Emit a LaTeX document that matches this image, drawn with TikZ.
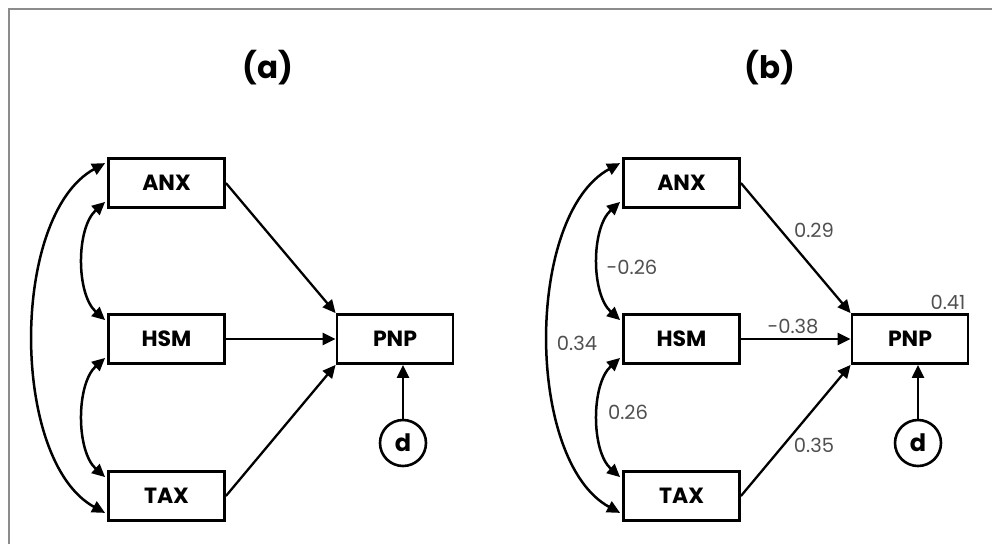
\documentclass[tikz,border=0pt]{standalone}
\usepackage{fontspec}
\newfontfamily\geo{Poppins}
\usetikzlibrary{arrows.meta,calc}
\definecolor{framegray}{HTML}{8C8C8C}
\definecolor{coefgray}{HTML}{505050}
\tikzset{
  var/.style={draw, line width=2.8pt, minimum width=116pt, minimum height=49pt,
    inner sep=0pt, font=\geo\bfseries\fontsize{22}{22}\selectfont},
  dist/.style={draw, circle, line width=2.6pt, minimum size=46pt, inner sep=0pt,
    font=\geo\bfseries\fontsize{24}{24}\selectfont},
  pathline/.style={line width=2.3pt, -{Triangle[length=13pt,width=12pt]}},
  covline/.style={line width=2.5pt,
    {Triangle[length=13pt,width=12pt]}-{Triangle[length=13pt,width=12pt]}},
  coef/.style={text=coefgray, inner sep=0pt, font=\geo\fontsize{19.5}{19.5}\selectfont},
  paneltitle/.style={inner sep=0pt, font=\geo\bfseries\fontsize{31}{31}\selectfont}
}
% one path model: three predictors, one outcome and its disturbance
\newcommand\pathmodel[1]{%
  \node[var] (#1anx) at (166.5,183) {ANX};
  \node[var] (#1hsm) at (166.5,339) {HSM};
  \node[var] (#1tax) at (166.5,496) {TAX};
  \node[var] (#1pnp) at (395,339) {PNP};
  \node[dist] (#1d) at (403,443) {d};
  \draw[pathline] (#1anx.east) -- (#1pnp.north west);
  \draw[pathline] (#1hsm.east) -- (#1pnp.west);
  \draw[pathline] (#1tax.east) -- (#1pnp.south west);
  \draw[pathline] (#1d.north) -- (#1d.north |- #1pnp.south);
  \draw[covline] ($(#1anx.south west)+(-2,-7)$) .. controls (76,228) and (76,294) .. ($(#1hsm.north west)+(-2,7)$);
  \draw[covline] ($(#1hsm.south west)+(-2,-7)$) .. controls (76,384) and (76,451) .. ($(#1tax.north west)+(-2,7)$);
  \draw[covline] ($(#1anx.north west)+(-2,6)$) .. controls (10,215) and (10,461) .. ($(#1tax.south west)+(-2,-9)$);
}
\begin{document}
\begin{tikzpicture}[x=1pt,y=-1pt]
  \fill[white] (0,0) rectangle (992,544);
  \useasboundingbox (0,0) rectangle (992,544);
  \draw[framegray, line width=2pt] (9,544) -- (9,9) -- (992,9);

  \node[paneltitle] (ta) at (268,68) {(a)};
  \node[paneltitle] (tb) at (770,68) {(b)};

  \begin{scope}
    \pathmodel{a}
  \end{scope}
  \begin{scope}[shift={(515,0)}]
    \pathmodel{b}
    \node[coef] (c1) at (299,230) {0.29};
    \node[coef] (c2) at (117,267) {-0.26};
    \node[coef] (c3) at (62,343) {0.34};
    \node[coef] (c4) at (278,327) {-0.38};
    \node[coef] (c5) at (433,302) {0.41};
    \node[coef] (c6) at (113,412) {0.26};
    \node[coef] (c7) at (299,445) {0.35};
  \end{scope}
\end{tikzpicture}
\end{document}
